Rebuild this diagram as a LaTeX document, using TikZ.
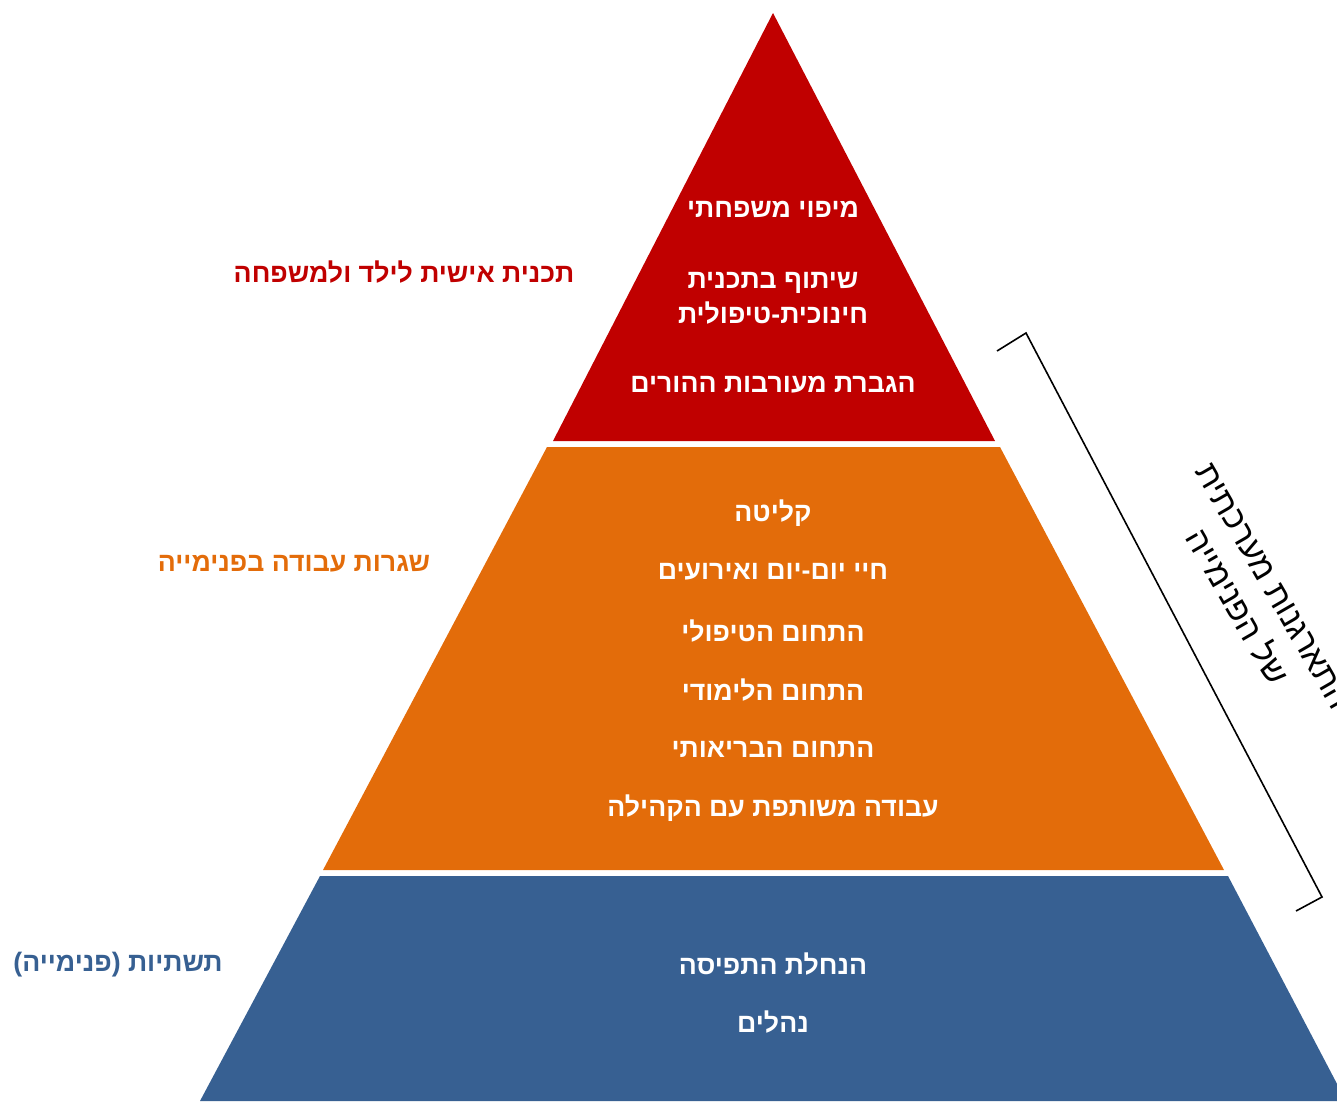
\documentclass[tikz,border=0pt]{standalone}
\usepackage{fontspec}
\setmainfont{Liberation Sans}
\newfontfamily\hebfont[Script=Hebrew]{Liberation Sans}
\TeXXeTstate=1
\definecolor{pred}{HTML}{C00000}
\definecolor{porange}{HTML}{E36C0A}
\definecolor{pblue}{HTML}{376092}
\begin{document}
\begin{tikzpicture}[x=1pt,y=-1pt,
  item/.style={text=white,font=\hebfont\bfseries\fontsize{26.7}{35}\selectfont,align=center,inner sep=0pt},
  side/.style={font=\hebfont\bfseries\fontsize{26.7}{32}\selectfont,inner sep=0pt},
  rot/.style={font=\hebfont\fontsize{33}{42}\selectfont,align=center,inner sep=0pt,text=black}]
\useasboundingbox (0,0) rectangle (1337,1101);
\clip (0,0) rectangle (1337,1101);
% layers
\fill[pred] (773,13) -- (995,441) -- (553,441) -- cycle;
\fill[porange] (547,447) -- (1000,447) -- (1224,870) -- (323,870) -- cycle;
\fill[pblue] (320,876) -- (1228,876) -- (1346,1101) -- (200,1101) -- cycle;
% bracket
\draw[line width=1.6pt] (997,351) -- (1026,333) -- (1322,897) -- (1296,911);
% red items
\node[item] (r1) at (773,209) {\beginR מיפוי משפחתי\endR};
\node[item] (r2) at (773,298) {\beginR שיתוף בתכנית\endR\\\beginR חינוכית-טיפולית\endR};
\node[item] (r3) at (773,385) {\beginR הגברת מעורבות ההורים\endR};
% orange items
\node[item] (o1) at (773,513) {\beginR קליטה\endR};
\node[item] (o2) at (773,572) {\beginR חיי יום-יום ואירועים\endR};
\node[item] (o3) at (773,631) {\beginR התחום הטיפולי\endR};
\node[item] (o4) at (773,690) {\beginR התחום הלימודי\endR};
\node[item] (o5) at (773,749) {\beginR התחום הבריאותי\endR};
\node[item] (o6) at (773,808) {\beginR עבודה משותפת עם הקהילה\endR};
% blue items
\node[item] (b1) at (773,964) {\beginR הנחלת התפיסה\endR};
\node[item] (b2) at (773,1022) {\beginR נהלים\endR};
% side labels
\node[side,text=pred] (sr) at (404,272) {\beginR תכנית אישית לילד ולמשפחה\endR};
\node[side,text=porange] (so) at (294,564) {\beginR שגרות עבודה בפנימייה\endR};
\node[side,text=pblue] (sb) at (118,965) {\beginR תשתיות (פנימייה)\endR};
% rotated label
\node[rot,rotate=-60] (rl) at (1254,597) {\beginR התארגנות מערכתית\endR\\\beginR של הפנימייה\endR};
\end{tikzpicture}
\end{document}
